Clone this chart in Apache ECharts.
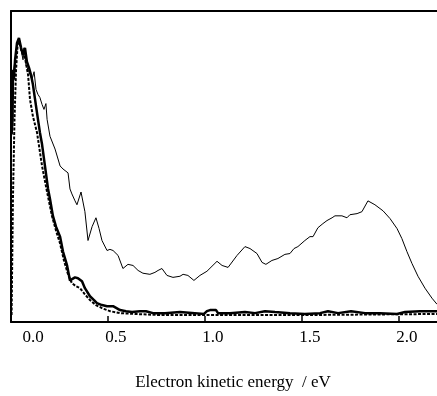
<!DOCTYPE html>
<html>
<head>
    <meta charset="utf-8">
    <title>Electron kinetic energy</title>
    <script src="https://cdn.jsdelivr.net/npm/echarts@6/dist/echarts.min.js"></script>
    <style>
        html, body { margin: 0; padding: 0; background: #fff; }
        #main { width: 437px; height: 396px; }
    </style>
</head>
<body>
<div id="main"></div>
<script type="text/javascript">
    // thin solid trace
    var thinE = [0.005, 0.010, 0.021, 0.031, 0.041, 0.052, 0.062, 0.067, 0.077, 0.088, 0.098, 0.108, 0.119, 0.129, 0.139, 0.149, 0.160, 0.170, 0.180, 0.186,
        0.201, 0.227, 0.253, 0.268, 0.278, 0.294, 0.304, 0.314, 0.330, 0.340, 0.361, 0.381, 0.397, 0.418, 0.438, 0.454, 0.469, 0.495, 0.510, 0.526,
        0.552, 0.577, 0.603, 0.629, 0.655, 0.680, 0.716, 0.742, 0.758, 0.778, 0.804, 0.835, 0.871, 0.887, 0.912, 0.943, 0.974, 1.010, 1.062, 1.088,
        1.119, 1.165, 1.206, 1.232, 1.268, 1.294, 1.314, 1.345, 1.376, 1.412, 1.438, 1.459, 1.479, 1.515, 1.541, 1.557, 1.582, 1.608, 1.629, 1.655,
        1.670, 1.706, 1.732, 1.747, 1.784, 1.809, 1.840, 1.876, 1.918, 1.954, 1.990, 2.015, 2.041, 2.067, 2.098, 2.134, 2.170, 2.196];
    var thinI = [0.652, 0.867, 0.921, 0.975, 0.993, 0.957, 0.921, 0.964, 0.903, 0.885, 0.892, 0.849, 0.878, 0.814, 0.796, 0.785, 0.760, 0.742, 0.763, 0.706,
        0.645, 0.599, 0.538, 0.527, 0.534, 0.513, 0.455, 0.437, 0.412, 0.398, 0.444, 0.373, 0.269, 0.319, 0.351, 0.312, 0.269, 0.233, 0.237, 0.233,
        0.215, 0.168, 0.183, 0.179, 0.161, 0.151, 0.147, 0.154, 0.161, 0.168, 0.143, 0.136, 0.140, 0.147, 0.143, 0.125, 0.143, 0.158, 0.194, 0.179,
        0.172, 0.215, 0.247, 0.240, 0.222, 0.190, 0.183, 0.197, 0.204, 0.219, 0.222, 0.240, 0.247, 0.269, 0.283, 0.283, 0.315, 0.330, 0.341, 0.351,
        0.358, 0.358, 0.351, 0.362, 0.366, 0.373, 0.412, 0.398, 0.376, 0.348, 0.312, 0.276, 0.229, 0.186, 0.140, 0.097, 0.061, 0.039];

    // thick solid trace
    var thickE = [0.003, 0.008, 0.010, 0.015, 0.021, 0.031, 0.041, 0.052, 0.062, 0.072, 0.082, 0.093, 0.103, 0.113, 0.124, 0.139, 0.149, 0.160, 0.175, 0.191,
        0.201, 0.216, 0.232, 0.253, 0.268, 0.289, 0.304, 0.314, 0.330, 0.345, 0.366, 0.381, 0.407, 0.428, 0.443, 0.469, 0.495, 0.526, 0.562, 0.593,
        0.624, 0.665, 0.696, 0.732, 0.794, 0.871, 0.948, 0.995, 1.010, 1.026, 1.057, 1.067, 1.129, 1.206, 1.258, 1.309, 1.361, 1.438, 1.515, 1.593,
        1.634, 1.686, 1.753, 1.825, 1.902, 1.990, 2.031, 2.108, 2.196];
    var thickI = [0.652, 0.706, 0.885, 0.849, 0.921, 0.982, 1.000, 0.964, 0.939, 0.964, 0.914, 0.892, 0.867, 0.832, 0.778, 0.706, 0.659, 0.616, 0.538, 0.455,
        0.419, 0.358, 0.319, 0.283, 0.229, 0.179, 0.125, 0.122, 0.136, 0.133, 0.122, 0.097, 0.068, 0.054, 0.043, 0.036, 0.032, 0.032, 0.018, 0.014,
        0.011, 0.014, 0.014, 0.007, 0.007, 0.011, 0.007, 0.004, 0.014, 0.018, 0.018, 0.007, 0.007, 0.011, 0.007, 0.014, 0.011, 0.007, 0.004, 0.007,
        0.014, 0.007, 0.014, 0.007, 0.007, 0.004, 0.011, 0.014, 0.014];

    // dashed trace
    var dashE = [0.003, 0.010, 0.018, 0.026, 0.034, 0.041, 0.052, 0.062, 0.072, 0.088, 0.098, 0.113, 0.134, 0.160, 0.186, 0.211, 0.232, 0.253, 0.273, 0.294,
        0.314, 0.335, 0.356, 0.381, 0.407, 0.438, 0.469, 0.510, 0.562, 0.639, 0.768, 0.974, 1.490, 2.196];
    var dashI = [0.000, 0.419, 0.706, 0.885, 0.975, 0.993, 0.957, 0.950, 0.928, 0.867, 0.778, 0.717, 0.659, 0.538, 0.444, 0.358, 0.305, 0.258, 0.197, 0.147,
        0.115, 0.104, 0.097, 0.075, 0.054, 0.036, 0.025, 0.014, 0.007, 0.004, 0.000, 0.000, 0.000, 0.004];

    var xTicks = [0, 0.5, 1.0, 1.5, 2.0];

    function pairs(xs, ys) {
        var out = [];
        for (var i = 0; i < xs.length; i++) out.push([xs[i], ys[i]]);
        return out;
    }

    var serif = 'Liberation Serif';
    var myChart = echarts.init(document.getElementById('main'));

    var option = {
        animation: false,
        grid: { left: 11, right: 0, top: 11, bottom: 72.5 },
        xAxis: [{
            type: 'value',
            min: 0,
            max: 2.196,
            interval: 0.5,
            splitLine: { show: false },
            axisLine: { onZero: false, lineStyle: { color: '#000', width: 2 } },
            axisTick: { inside: true, length: 6, lineStyle: { color: '#000', width: 1.5 } },
            axisLabel: {
                margin: 7,
                showMaxLabel: false,
                formatter: function (v) {
                    if (xTicks.indexOf(Math.round(v * 10) / 10) < 0) return '';
                    return v === 0 ? '{m|0.0}' : '{n|' + v.toFixed(1) + '}';
                },
                rich: {
                    m: { fontFamily: serif, fontSize: 17, color: '#000', padding: [0, 0, 0, 44] },
                    n: { fontFamily: serif, fontSize: 17, color: '#000', padding: [0, 0, 0, 16] }
                }
            },
            name: 'Electron kinetic energy  / eV',
            nameLocation: 'middle',
            nameGap: 52,
            nameTextStyle: { fontFamily: serif, fontSize: 17, color: '#000', padding: [0, 0, 0, 18] }
        }, {
            type: 'value',
            position: 'top',
            min: 0,
            max: 2.196,
            splitLine: { show: false },
            axisLine: { onZero: false, lineStyle: { color: '#000', width: 2 } },
            axisTick: { show: false },
            axisLabel: { show: false }
        }],
        yAxis: {
            type: 'value',
            min: -0.025,
            max: 1.097,
            splitLine: { show: false },
            axisLine: { show: true, onZero: false, lineStyle: { color: '#000', width: 2 } },
            axisTick: { show: false },
            axisLabel: { show: false }
        },
        series: [{
            type: 'line',
            showSymbol: false,
            data: pairs(thinE, thinI),
            lineStyle: { color: '#000', width: 1 }
        }, {
            type: 'line',
            showSymbol: false,
            data: pairs(dashE, dashI),
            lineStyle: { color: '#000', width: 2, type: [3, 1.5] }
        }, {
            type: 'line',
            showSymbol: false,
            data: pairs(thickE, thickI),
            lineStyle: { color: '#000', width: 2.5 }
        }]
    };

    myChart.setOption(option);
</script>
</body>
</html>
